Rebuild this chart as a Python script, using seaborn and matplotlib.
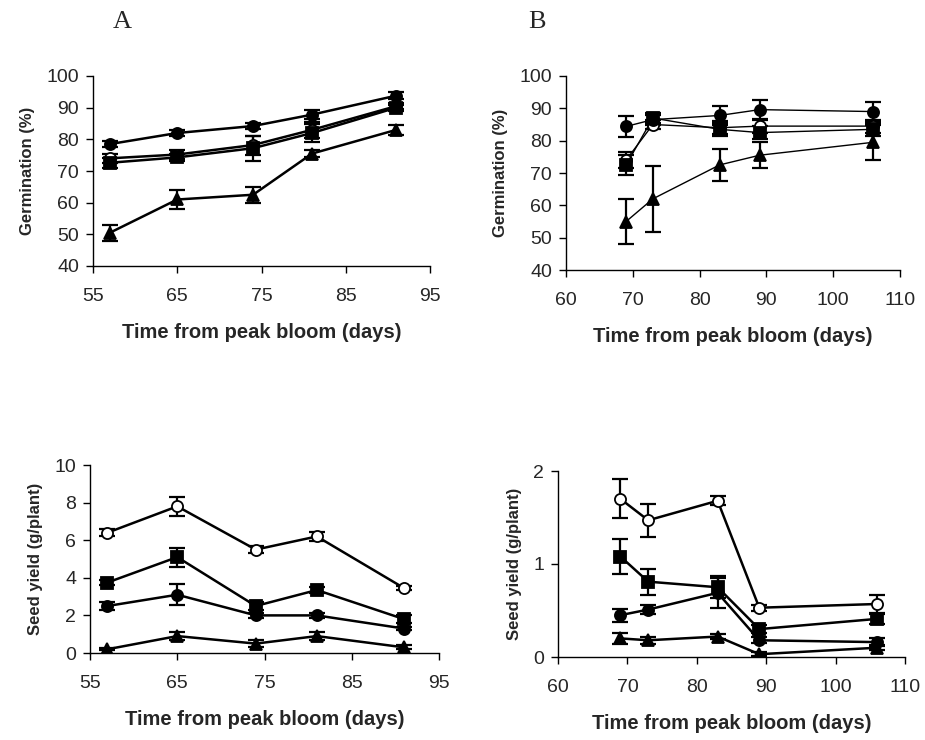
import matplotlib
matplotlib.use("Agg")
import matplotlib.pyplot as plt
import seaborn as sns
import numpy as np

sns.set_style("ticks")
plt.rcParams["font.family"] = ["Liberation Sans", "DejaVu Sans"]

# ---- data ----
days_a = [57, 65, 74, 81, 91]
days_b = [69, 73, 83, 89, 106]

# Germination (%), panel A
germ_a_circle = [78.5, 82.0, 84.2, 87.8, 93.8]
germ_a_open = [74.0, 75.2, 78.2, 83.0, 90.5]
germ_a_square = [72.6, 74.3, 77.2, 82.0, 90.0]
germ_a_triangle = [50.5, 61.0, 62.5, 75.5, 83.0]
germ_a_circle_err = [1.0, 1.0, 1.0, 1.5, 1.0]
germ_a_open_err = [1.5, 1.5, 3.0, 2.5, 1.0]
germ_a_square_err = [1.5, 1.0, 4.0, 3.0, 1.0]
germ_a_triangle_err = [2.5, 3.0, 2.5, 1.0, 1.5]

# Germination (%), panel B
germ_b_circle = [84.4, 86.5, 87.8, 89.6, 89.0]
germ_b_open = [74.0, 85.0, 84.0, 84.5, 84.5]
germ_b_square = [72.5, 87.0, 83.5, 82.5, 83.5]
germ_b_triangle = [55.0, 62.0, 72.5, 75.5, 79.5]
germ_b_circle_err = [3.2, 1.5, 3.0, 3.0, 3.0]
germ_b_open_err = [2.5, 1.5, 2.0, 2.0, 2.0]
germ_b_square_err = [3.0, 1.5, 2.0, 2.0, 2.0]
germ_b_triangle_err = [7.0, 10.2, 5.0, 4.0, 5.5]

# Seed yield (g/plant), panel A
yield_a_open = [6.4, 7.8, 5.5, 6.2, 3.45]
yield_a_square = [3.75, 5.1, 2.5, 3.35, 1.8]
yield_a_circle = [2.5, 3.1, 2.0, 2.0, 1.3]
yield_a_triangle = [0.2, 0.9, 0.5, 0.9, 0.3]
yield_a_open_err = [0.2, 0.5, 0.2, 0.25, 0.1]
yield_a_square_err = [0.15, 0.5, 0.2, 0.15, 0.2]
yield_a_circle_err = [0.2, 0.55, 0.15, 0.15, 0.1]
yield_a_triangle_err = [0.05, 0.2, 0.2, 0.2, 0.1]

# Seed yield (g/plant), panel B
yield_b_open = [1.70, 1.47, 1.68, 0.53, 0.57]
yield_b_square = [1.08, 0.81, 0.75, 0.30, 0.41]
yield_b_circle = [0.45, 0.51, 0.69, 0.18, 0.16]
yield_b_triangle = [0.20, 0.18, 0.22, 0.03, 0.10]
yield_b_open_err = [0.21, 0.18, 0.05, 0.03, 0.10]
yield_b_square_err = [0.19, 0.14, 0.12, 0.04, 0.05]
yield_b_circle_err = [0.07, 0.05, 0.16, 0.03, 0.04]
yield_b_triangle_err = [0.06, 0.04, 0.03, 0.02, 0.03]

x_label = "Time from peak bloom (days)"
germ_label = "Germination (%)"
yield_label = "Seed yield (g/plant)"

W, H = 925, 740
fig = plt.figure(figsize=(W / 100, H / 100), dpi=100)


def px_axes(left, right, top, bottom):
    return fig.add_axes([left / W, 1 - bottom / H, (right - left) / W, (bottom - top) / H])


def draw_series(ax, x, y, err, marker, open_face, lw, ms):
    face = "white" if open_face else "black"
    ax.errorbar(x, y, yerr=err, fmt="none", ecolor="black", elinewidth=1.6,
                capsize=5.5, capthick=1.6, zorder=2)
    sns.lineplot(x=x, y=y, ax=ax, color="black", linewidth=lw, marker=marker,
                 markersize=ms, markerfacecolor=face, markeredgecolor="black",
                 markeredgewidth=1.3, zorder=3)


def style_axes(ax, xlim, xticks, ylim, yticks, ylabel):
    ax.set_xlim(*xlim)
    ax.set_ylim(*ylim)
    ax.set_xticks(xticks)
    ax.set_yticks(yticks)
    ax.tick_params(axis="both", labelsize=14, direction="out", length=5, width=1, color="black")
    ax.tick_params(axis="x", pad=11)
    ax.tick_params(axis="y", pad=5)
    for s in ("top", "right"):
        ax.spines[s].set_visible(False)
    for s in ("left", "bottom"):
        ax.spines[s].set_linewidth(1)
        ax.spines[s].set_color("black")
    ax.set_xlabel(x_label, fontsize=14.5, fontweight="bold", labelpad=13)
    ax.set_ylabel(ylabel, fontsize=12, fontweight="bold", labelpad=8)


# Top-left: germination A
ax1 = px_axes(93, 430, 76, 266)
for y, e, m, o in [(germ_a_open, germ_a_open_err, "o", True),
                   (germ_a_square, germ_a_square_err, "s", False),
                   (germ_a_circle, germ_a_circle_err, "o", False),
                   (germ_a_triangle, germ_a_triangle_err, "^", False)]:
    draw_series(ax1, days_a, y, e, m, o, 1.8, 8)
style_axes(ax1, (55, 95), [55, 65, 75, 85, 95], (40, 100), range(40, 101, 10), germ_label)

# Top-right: germination B
ax2 = px_axes(566, 900, 76, 270)
for y, e, m, o in [(germ_b_open, germ_b_open_err, "o", True),
                   (germ_b_square, germ_b_square_err, "s", False),
                   (germ_b_circle, germ_b_circle_err, "o", False),
                   (germ_b_triangle, germ_b_triangle_err, "^", False)]:
    draw_series(ax2, days_b, y, e, m, o, 1.0, 8)
style_axes(ax2, (60, 110), [60, 70, 80, 90, 100, 110], (40, 100), range(40, 101, 10), germ_label)

# Bottom-left: seed yield A
ax3 = px_axes(90, 439, 465, 653)
for y, e, m, o in [(yield_a_open, yield_a_open_err, "o", True),
                   (yield_a_square, yield_a_square_err, "s", False),
                   (yield_a_circle, yield_a_circle_err, "o", False),
                   (yield_a_triangle, yield_a_triangle_err, "^", False)]:
    draw_series(ax3, days_a, y, e, m, o, 1.8, 8)
style_axes(ax3, (55, 95), [55, 65, 75, 85, 95], (0, 10), range(0, 11, 2), yield_label)

# Bottom-right: seed yield B
ax4 = px_axes(558, 905, 471, 657)
for y, e, m, o in [(yield_b_open, yield_b_open_err, "o", True),
                   (yield_b_square, yield_b_square_err, "s", False),
                   (yield_b_circle, yield_b_circle_err, "o", False),
                   (yield_b_triangle, yield_b_triangle_err, "^", False)]:
    draw_series(ax4, days_b, y, e, m, o, 1.8, 8)
style_axes(ax4, (60, 110), [60, 70, 80, 90, 100, 110], (0, 2), [0, 1, 2], yield_label)

fig.text(122 / W, 1 - 22 / H, "A", fontsize=19, family="Liberation Serif", ha="center", va="center")
fig.text(537 / W, 1 - 22 / H, "B", fontsize=19, family="Liberation Serif", ha="center", va="center")

fig.savefig("out.png", dpi=100)
